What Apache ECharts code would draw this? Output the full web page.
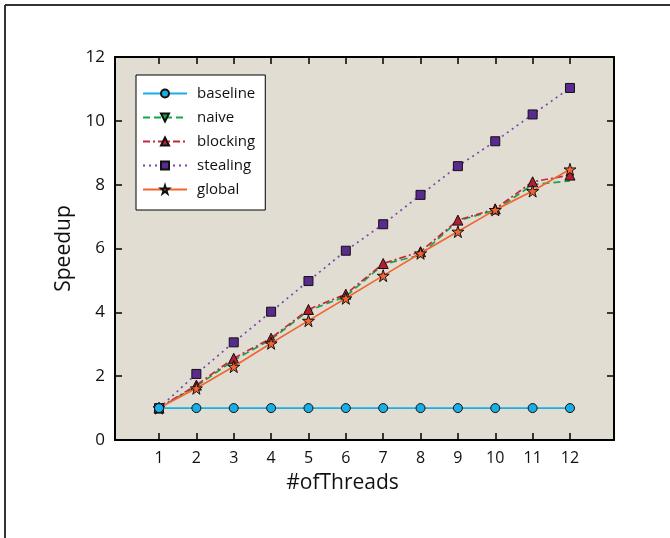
<!DOCTYPE html>
<html>
<head>
<meta charset="utf-8">
<script src="https://cdn.jsdelivr.net/npm/echarts@6/dist/echarts.min.js"></script>
<style>
  html, body { margin: 0; padding: 0; background: #fff; }
  #chart { width: 670px; height: 538px; }
</style>
</head>
<body>
<div id="chart"></div>
<script>
// 数据
const threads = [1, 2, 3, 4, 5, 6, 7, 8, 9, 10, 11, 12];
const baseline = [1, 1, 1, 1, 1, 1, 1, 1, 1, 1, 1, 1];
const naive = [1.0, 1.68, 2.5, 3.15, 4.05, 4.5, 5.5, 5.8, 6.87, 7.2, 8.0, 8.12];
const blocking = [1.0, 1.72, 2.56, 3.19, 4.09, 4.57, 5.53, 5.9, 6.89, 7.24, 8.09, 8.3];
const stealing = [1.0, 2.07, 3.06, 4.02, 4.98, 5.93, 6.76, 7.68, 8.58, 9.36, 10.2, 11.03];
const global = [1.0, 1.62, 2.3, 3.03, 3.74, 4.44, 5.15, 5.85, 6.53, 7.21, 7.8, 8.48];
const yTicks = [0, 2, 4, 6, 8, 10, 12];

const FONT = 'Open Sans';
const STAR = 'path://M50,0 L61,35 L98,35 L68,57 L79,91 L50,70 L21,91 L32,57 L2,35 L39,35 Z';

const chart = echarts.init(document.getElementById('chart'));

function pairs(values) {
  return threads.map((t, i) => [t, values[i]]);
}

// 生成一条折线
function makeSeries(name, values, opts) {
  return {
    name: name,
    type: 'line',
    data: pairs(values),
    symbol: opts.symbol,
    symbolSize: opts.size,
    symbolRotate: opts.rotate || 0,
    showSymbol: opts.showSymbol !== false,
    showAllSymbol: true,
    lineStyle: { color: opts.line, width: 1.7, type: opts.dash || 'solid' },
    itemStyle: { color: opts.fill, borderColor: '#111', borderWidth: 1 },
    emphasis: { disabled: true },
    z: opts.z
  };
}

const axisLineStyle = { show: true, onZero: false, lineStyle: { color: '#000', width: 2 } };
const tickStyle = { show: true, inside: true, length: 7, lineStyle: { color: '#000', width: 1.5 } };

const option = {
  backgroundColor: '#fff',
  animation: false,
  textStyle: { fontFamily: FONT },
  grid: { left: 115, top: 57, width: 499, height: 383, show: true, backgroundColor: '#e2ddd3', borderWidth: 0 },
  legend: {
    orient: 'vertical',
    left: 136,
    top: 75,
    padding: [11, 10, 13, 6],
    itemWidth: 44,
    itemHeight: 10,
    itemGap: 9,
    backgroundColor: '#fff',
    borderColor: '#000',
    borderWidth: 1,
    textStyle: { fontFamily: FONT, fontSize: 15, color: '#111', padding: [0, 0, 0, 5] },
    data: ['baseline', 'naive', 'blocking', 'stealing', 'global']
  },
  xAxis: [
    {
      type: 'value', min: -0.178, max: 13.178,
      name: '#ofThreads', nameLocation: 'middle', nameGap: 33,
      nameTextStyle: { fontFamily: FONT, fontSize: 21, color: '#111', padding: [0, 44, 0, 0] },
      axisLine: axisLineStyle,
      axisTick: Object.assign({ customValues: threads }, tickStyle),
      axisLabel: { customValues: threads, color: '#111', fontSize: 16, margin: 10, fontFamily: FONT },
      splitLine: { show: false }
    },
    {
      type: 'value', position: 'top', min: -0.178, max: 13.178,
      axisLine: axisLineStyle,
      axisTick: Object.assign({ customValues: threads }, tickStyle),
      axisLabel: { show: false },
      splitLine: { show: false }
    }
  ],
  yAxis: [
    {
      type: 'value', min: 0, max: 12, interval: 2,
      name: 'Speedup', nameLocation: 'middle', nameGap: 30,
      nameTextStyle: { fontFamily: FONT, fontSize: 21, color: '#111' },
      axisLine: axisLineStyle,
      axisTick: Object.assign({ customValues: yTicks }, tickStyle),
      axisLabel: { customValues: yTicks, color: '#111', fontSize: 17, margin: 10, fontFamily: FONT },
      splitLine: { show: false }
    },
    {
      type: 'value', position: 'right', min: 0, max: 12, interval: 2,
      axisLine: axisLineStyle,
      axisTick: Object.assign({ customValues: yTicks }, tickStyle),
      axisLabel: { show: false },
      splitLine: { show: false }
    }
  ],
  graphic: [
    { type: 'line', shape: { x1: 5, y1: 5, x2: 670, y2: 5 }, style: { stroke: '#333', lineWidth: 2 } },
    { type: 'line', shape: { x1: 5, y1: 5, x2: 5, y2: 538 }, style: { stroke: '#333', lineWidth: 2 } }
  ],
  series: [
    makeSeries('baseline', baseline, { symbol: 'circle', size: 9, line: '#1aaee6', fill: '#1aaee6', z: 6 }),
    makeSeries('naive', naive, { symbol: 'triangle', size: 10, rotate: 180, showSymbol: false, line: '#14a64a', fill: '#14a64a', dash: [7, 4], z: 2 }),
    makeSeries('blocking', blocking, { symbol: 'triangle', size: 10, line: '#c4283c', fill: '#b31e30', dash: [7, 3, 2, 3], z: 3 }),
    makeSeries('stealing', stealing, { symbol: 'rect', size: 9, line: '#7a45ad', fill: '#5b2a8e', dash: [2, 4], z: 5 }),
    makeSeries('global', global, { symbol: STAR, size: 12, line: '#f26532', fill: '#f26532', z: 4 })
  ]
};

chart.setOption(option);
</script>
</body>
</html>
